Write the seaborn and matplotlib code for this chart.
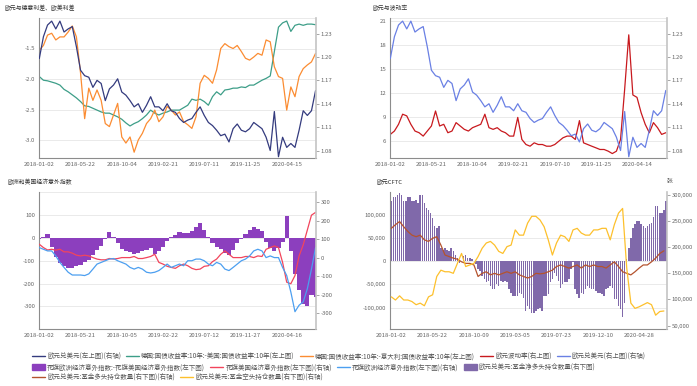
import numpy as np
import matplotlib
matplotlib.use("Agg")
import matplotlib.pyplot as plt
import seaborn as sns
from matplotlib.lines import Line2D
from matplotlib.patches import Patch
from matplotlib.ticker import FuncFormatter

step_daily = 10
eurusd = [1.198, 1.226, 1.241, 1.246, 1.236, 1.246, 1.232, 1.236, 1.239, 1.213,
          1.183, 1.176, 1.174, 1.161, 1.170, 1.166, 1.144, 1.159, 1.164, 1.172,
          1.155, 1.151, 1.144, 1.136, 1.140, 1.129, 1.138, 1.149, 1.136, 1.136,
          1.131, 1.140, 1.131, 1.129, 1.121, 1.116, 1.119, 1.121, 1.129, 1.136,
          1.125, 1.116, 1.112, 1.106, 1.099, 1.101, 1.091, 1.108, 1.114, 1.106,
          1.104, 1.108, 1.116, 1.112, 1.108, 1.097, 1.080, 1.130, 1.072, 1.097,
          1.084, 1.089, 1.084, 1.106, 1.131, 1.125, 1.131, 1.157]
de_us = [-1.96, -2.02, -2.03, -2.05, -2.07, -2.10, -2.17, -2.21, -2.26, -2.31,
         -2.37, -2.44, -2.45, -2.48, -2.51, -2.54, -2.56, -2.56, -2.59, -2.62,
         -2.66, -2.72, -2.77, -2.73, -2.70, -2.65, -2.59, -2.51, -2.56, -2.59,
         -2.56, -2.54, -2.51, -2.51, -2.51, -2.47, -2.43, -2.33, -2.35, -2.33,
         -2.37, -2.43, -2.29, -2.21, -2.26, -2.18, -2.17, -2.15, -2.15, -2.13,
         -2.14, -2.10, -2.10, -2.06, -2.02, -1.99, -1.95, -1.55, -1.15, -1.08,
         -1.05, -1.22, -1.12, -1.10, -1.12, -1.10, -1.10, -1.11]
de_it = [-1.53, -1.45, -1.28, -1.25, -1.36, -1.31, -1.31, -1.23, -1.13, -1.31,
         -1.90, -2.65, -2.15, -2.35, -2.18, -2.35, -2.73, -2.78, -2.59, -2.40,
         -2.95, -3.05, -2.95, -3.20, -3.00, -2.89, -2.73, -2.65, -2.51, -2.70,
         -2.62, -2.45, -2.51, -2.59, -2.54, -2.70, -2.75, -2.81, -2.62, -2.07,
         -1.94, -1.99, -2.07, -1.85, -1.50, -1.42, -1.47, -1.50, -1.45, -1.55,
         -1.66, -1.69, -1.64, -1.58, -1.61, -1.36, -1.39, -1.80, -1.96, -1.99,
         -2.51, -2.13, -2.29, -1.96, -1.83, -1.77, -1.72, -1.58]
eur_vol = [6.88, 7.30, 8.14, 9.40, 9.19, 8.14, 7.30, 7.09, 6.67, 7.30,
           7.93, 9.80, 7.93, 8.14, 7.09, 7.30, 8.35, 7.93, 7.51, 7.30,
           7.72, 7.93, 8.14, 9.40, 7.72, 7.51, 7.72, 7.30, 7.09, 6.67,
           6.67, 9.00, 6.25, 5.62, 5.41, 5.83, 5.62, 5.62, 5.41, 5.41,
           5.62, 6.04, 6.46, 6.67, 6.67, 6.25, 8.60, 5.83, 5.62, 5.41,
           5.21, 5.00, 5.00, 4.79, 4.49, 4.79, 6.25, 12.5, 19.3, 11.8,
           11.5, 9.60, 8.14, 7.09, 8.35, 7.72, 6.88, 7.09]
surprise_diff = [-5, 5, 15, -40, -85, -110, -125, -130, -130, -125,
                 -120, -105, -95, -75, -55, -35, -5, 25, 5, -25,
                 -50, -60, -62, -70, -65, -60, -55, -45, -70, -60,
                 -40, -15, 5, 10, 25, 22, 20, 28, 45, 65,
                 35, 5, -25, -40, -50, -65, -75, -55, -25, -5,
                 15, 35, 45, 40, 30, -20, -45, -60, -45, -20,
                 95, -60, -160, -230, -290, -300, -250, -260]
surprise_us = [73, 55, 42, 46, 41, 46, 32, 32, 25, 14,
               10, 14, 10, 1, -7, -11, -11, -4, -7, -4,
               1, 1, 1, 7, -4, -4, 1, 7, 19, -25,
               -34, -46, -52, -57, -43, -34, -43, -57, -64, -61,
               -46, -43, -21, -7, 19, 37, 19, 1, 1, 1,
               7, 7, 1, 10, 7, 46, 55, 64, 55, -25,
               -132, -140, -96, 10, 70, 150, 230, 245]
surprise_eu = [55, 46, 37, 37, 10, -25, -52, -78, -93, -93,
               -93, -96, -87, -61, -34, -25, -16, -7, -4, -16,
               -25, -34, -52, -61, -52, -61, -78, -82, -78, -69,
               -52, -34, -52, -43, -34, -43, -16, -16, -7, -7,
               -16, -34, -43, -25, -34, -61, -69, -52, -34, -16,
               -7, 10, 37, 46, 37, 1, 10, 1, 1, -52,
               -96, -185, -291, -256, -238, -167, -61, 55]

# CFTC weekly: net every week, long / short every 2 weeks (contracts)
cftc_net = [128.6, 139, 139, 143, 146, 143, 129, 129, 139, 139,
            129, 129, 132, 125, 143, 143, 125, 114, 111, 104,
            93, 75, 71, 75, 29, 25, 29, 25, 21, 29,
            21, 14, 7, -4, 0, 11, 14, 7, 7, 4,
            0, -7, -18, -21, -32, -39, -46, -43, -54, -61,
            -61, -50, -54, -43, -46, -43, -46, -61, -68, -75,
            -75, -75, -68, -71, -79, -107, -96, -104, -111, -111,
            -107, -104, -100, -107, -75, -75, -71, -46, -39, -25,
            -32, -43, -57, -50, -46, -46, -39, -18, -2, -61,
            -71, -79, -68, -71, -61, -54, -57, -61, -61, -64,
            -68, -68, -71, -75, -61, -57, -54, -57, -82, -82,
            -96, -104, -121, -90, 5, 29, 50, 71, 79, 86,
            86, 79, 75, 71, 75, 79, 82, 96, 118, 118,
            104, 104, 111, 129]
cftc_long = [236, 243, 249, 239, 230, 223, 220, 223, 214, 211,
             217, 220, 204, 185, 182, 179, 177, 172, 169, 169,
             166, 144, 150, 153, 147, 150, 147, 150, 153, 150,
             153, 147, 144, 141, 144, 150, 149, 150, 153, 156,
             163, 166, 163, 160, 163, 166, 160, 166, 163, 166,
             163, 163, 160, 166, 172, 163, 153, 150, 147, 153,
             160, 166, 166, 172, 179, 188, 193]
cftc_short = [105, 99, 107, 99, 99, 96, 90, 93, 88, 105,
              109, 144, 156, 153, 153, 150, 169, 188, 163, 166,
              169, 182, 198, 208, 211, 204, 192, 188, 201, 204,
              233, 223, 223, 246, 259, 259, 252, 239, 214, 185,
              208, 223, 220, 211, 233, 236, 227, 223, 223, 233,
              233, 236, 236, 214, 243, 265, 274, 160, 93, 83,
              86, 90, 94, 90, 70, 77, 78]

labels_tl = ['2018-01-02', '2018-05-22', '2018-10-04', '2019-02-21', '2019-07-11', '2019-11-25', '2020-04-15']
labels_tr = ['2018-01-02', '2018-05-21', '2018-10-04', '2019-02-21', '2019-07-10', '2019-11-25', '2020-04-14']
labels_bl = ['2018-01-02', '2018-05-21', '2018-10-05', '2019-02-22', '2019-07-12', '2019-11-27', '2020-04-16']
labels_br = ['2018-01-02', '2018-05-22', '2018-10-09', '2019-03-05', '2019-07-23', '2019-12-10', '2020-04-28']

# colours
c_navy = '#343b7e'
c_teal = '#3d9e88'
c_orange = '#fb8c32'
c_vol = '#c8191e'
c_blue = '#6a80e4'
c_diff = '#8c3fbe'
c_us = '#f2455c'
c_eu = '#4c9ff0'
c_net = '#8069aa'
c_long = '#b4532e'
c_short = '#fdc02c'

x_daily = np.arange(len(eurusd)) * step_daily
x_weekly = np.arange(len(cftc_net))
x_biweek = np.arange(len(cftc_long)) * 2

sns.set_theme(style="white")
plt.rcParams['font.family'] = ['Noto Sans CJK SC', 'DejaVu Sans']
plt.rcParams['axes.unicode_minus'] = False

W, H = 697, 386
fig = plt.figure(figsize=(W / 100, H / 100), dpi=100)


def box(x0, y0, x1, y1):
    return [x0 / W, 1 - y1 / H, (x1 - x0) / W, (y1 - y0) / H]


FS = 4.3
TC = '#666666'


def style(ax, ax2, ticks, labels, xmax):
    ax.set_xlim(0, xmax)
    ax.set_xticks(ticks)
    ax.set_xticklabels(labels)
    ax.set_xlabel('')
    ax.set_ylabel('')
    ax2.set_ylabel('')
    for a in (ax, ax2):
        a.spines['top'].set_visible(False)
        a.set_facecolor('none')
    ax.spines['left'].set_color('#8c8c8c')
    ax.spines['bottom'].set_color('#8c8c8c')
    ax.spines['left'].set_linewidth(0.8)
    ax.spines['bottom'].set_linewidth(0.8)
    ax.spines['right'].set_visible(False)
    ax2.spines['left'].set_visible(False)
    ax2.spines['bottom'].set_visible(False)
    ax2.spines['right'].set_color('#c4c4c4')
    ax2.spines['right'].set_linewidth(1.2)
    ax.tick_params(axis='x', labelsize=FS, labelcolor=TC, length=0, pad=2.5)
    ax.tick_params(axis='y', labelsize=FS, labelcolor=TC, length=0, pad=3)
    ax2.tick_params(axis='y', labelsize=FS, labelcolor=TC, length=2, width=0.6,
                    color='#999999', pad=1.5, right=True)
    ax.grid(axis='y', color='#e6e6e6', linewidth=0.6)
    ax.grid(axis='x', visible=False)
    ax2.grid(False)
    ax.set_axisbelow(True)
    ax.axhline(ax.get_ylim()[1], color='#e6e6e6', lw=0.6, zorder=0)


LW = 0.9

# ---- top left ----
ax = fig.add_axes(box(39.3, 18, 316, 158.3))
sns.lineplot(x=x_daily, y=de_us, color=c_teal, lw=LW, ax=ax)
sns.lineplot(x=x_daily, y=de_it, color=c_orange, lw=LW, ax=ax)
ax.set_ylim(-3.3, -1.0)
ax.set_yticks([-3.0, -2.5, -2.0, -1.5])
ax.yaxis.set_major_formatter(FuncFormatter(lambda v, p: f'{v:.1f}'))
ax2 = ax.twinx()
sns.lineplot(x=x_daily, y=eurusd, color=c_navy, lw=LW, ax=ax2)
ax2.set_ylim(1.07, 1.25)
ax2.set_yticks([1.08, 1.11, 1.14, 1.17, 1.20, 1.23])
ax2.yaxis.set_major_formatter(FuncFormatter(lambda v, p: f'{v:.2f}'))
style(ax, ax2, np.arange(0, 700, 100), labels_tl, 671)

# ---- top right ----
ax = fig.add_axes(box(390.3, 18, 667, 158.3))
sns.lineplot(x=x_daily, y=eur_vol, color=c_vol, lw=LW, ax=ax)
ax.set_ylim(3.9, 21.4)
ax.set_yticks([6, 9, 12, 15, 18, 21])
ax2 = ax.twinx()
sns.lineplot(x=x_daily, y=eurusd, color=c_blue, lw=LW, ax=ax2)
ax2.set_ylim(1.07, 1.25)
ax2.set_yticks([1.08, 1.11, 1.14, 1.17, 1.20, 1.23])
ax2.yaxis.set_major_formatter(FuncFormatter(lambda v, p: f'{v:.2f}'))
style(ax, ax2, np.arange(0, 700, 100), labels_tr, 673)

# ---- bottom left ----
ax = fig.add_axes(box(39.3, 192, 316, 329.3))
sns.barplot(x=x_daily, y=surprise_diff, native_scale=True, color=c_diff, saturation=1,
            width=1, errorbar=None, linewidth=0, ax=ax)
ax.set_ylim(-400, 200)
ax.set_yticks([-300, -200, -100, 0, 100])
ax2 = ax.twinx()
sns.lineplot(x=x_daily, y=surprise_us, color=c_us, lw=LW, ax=ax2)
sns.lineplot(x=x_daily, y=surprise_eu, color=c_eu, lw=LW, ax=ax2)
ax2.set_ylim(-386, 355)
ax2.set_yticks([-300, -200, -100, 0, 100, 200, 300])
style(ax, ax2, np.arange(0, 700, 100), labels_bl, 671)

# ---- bottom right ----
ax = fig.add_axes(box(390.3, 192.5, 667, 329.3))
sns.barplot(x=x_weekly, y=np.array(cftc_net) * 1000, native_scale=True, color=c_net,
            saturation=1, width=0.72, errorbar=None, linewidth=0, ax=ax)
ax.set_ylim(-147000, 148000)
ax.set_yticks([-100000, -50000, 0, 50000, 100000])
ax.yaxis.set_major_formatter(FuncFormatter(lambda v, p: f'{v:,.0f}'))
ax2 = ax.twinx()
sns.lineplot(x=x_biweek, y=np.array(cftc_long) * 1000, color=c_long, lw=LW, ax=ax2)
sns.lineplot(x=x_biweek, y=np.array(cftc_short) * 1000, color=c_short, lw=LW, ax=ax2)
ax2.set_ylim(43000, 304500)
ax2.set_yticks([50000, 100000, 150000, 200000, 250000, 300000])
ax2.yaxis.set_major_formatter(FuncFormatter(lambda v, p: f'{v:,.0f}'))
style(ax, ax2, np.arange(0, 140, 20), labels_br, 133.5)
ax.set_xlim(-0.5, 133.5)

# ---- titles ----
TFS = 4.2
fig.text(5 / W, 1 - 8 / H, '欧元与德意利差、欧美利差', fontsize=TFS, color='#333333', va='center')
fig.text(373 / W, 1 - 8 / H, '欧元与波动率', fontsize=TFS, color='#333333', va='center')
fig.text(8 / W, 1 - 181.7 / H, '欧洲和美国经济意外指数', fontsize=TFS, color='#333333', va='center')
fig.text(377 / W, 1 - 181.7 / H, '欧元CFTC', fontsize=TFS, color='#333333', va='center')
fig.text(666 / W, 1 - 181.7 / H, '张', fontsize=TFS, color='#555555', va='center')

# ---- legend rows ----
LFS = 4.7


def line_h(c):
    return Line2D([], [], color=c, lw=1.0)


rows = [
    ([line_h(c_navy), line_h(c_teal), line_h(c_orange), line_h(c_vol), line_h(c_blue)],
     ['欧元兑美元(左上图)(右轴)', '德国:国债收益率:10年:-美国:国债收益率:10年(左上图)',
      '德国:国债收益率:10年:-意大利:国债收益率:10年(左上图)', '欧元波动率(右上图)',
      '欧元兑美元(右上图)(右轴)'], 356.7),
    ([Patch(color=c_diff), line_h(c_us), line_h(c_eu), Patch(color=c_net)],
     ['花旗欧洲经济意外指数:-花旗美国经济意外指数(左下图)', '花旗美国经济意外指数(左下图)(右轴)',
      '花旗欧洲经济意外指数(左下图)(右轴)', '欧元兑美元:基金净多头持仓数量(右下图)'], 367.3),
    ([line_h(c_long), line_h(c_short)],
     ['欧元兑美元:基金多头持仓数量(右下图)(右轴)', '欧元兑美元:基金空头持仓数量(右下图)(右轴)'], 377.7),
]
for handles, labels, yy in rows:
    leg = fig.legend(handles, labels, loc='center left', bbox_to_anchor=(32 / W, 1 - yy / H),
                     ncol=len(handles), frameon=False, fontsize=LFS, borderpad=0,
                     handlelength=2.0, handleheight=0.9, handletextpad=0.3,
                     columnspacing=0.8, borderaxespad=0)
    for t in leg.get_texts():
        t.set_color('#555555')

fig.savefig('out.png', dpi=100)
